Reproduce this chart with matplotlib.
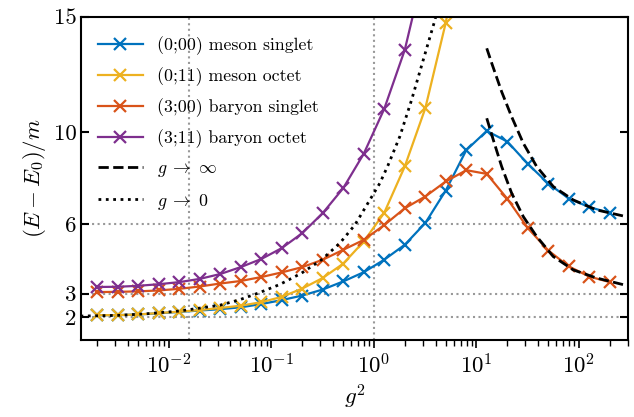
import numpy as np
import matplotlib
matplotlib.use('Agg')
import matplotlib.pyplot as plt

# LaTeX-like look
plt.rcParams['font.family'] = 'serif'
plt.rcParams['font.serif'] = ['cmr10']
plt.rcParams['mathtext.fontset'] = 'cm'
plt.rcParams['axes.formatter.use_mathtext'] = True
plt.rcParams['font.size'] = 16.5

# Data
g2 = [0.002, 0.00317, 0.00502, 0.00796, 0.0126, 0.02, 0.0317, 0.0502, 0.0796, 0.126,
      0.2, 0.317, 0.502, 0.796, 1.26, 2.0, 3.17, 5.02, 7.96, 12.6,
      20.0, 31.7, 50.2, 79.6, 126.0, 200.0]

meson_singlet = [2.07, 2.07, 2.10, 2.15, 2.21, 2.27, 2.33, 2.41, 2.55, 2.72,
                 2.92, 3.18, 3.53, 3.93, 4.47, 5.12, 6.06, 7.47, 9.22, 10.05,
                 9.59, 8.62, 7.77, 7.12, 6.75, 6.50]
meson_octet = [2.07, 2.07, 2.10, 2.16, 2.22, 2.29, 2.38, 2.48, 2.63, 2.86,
               3.22, 3.68, 4.30, 5.26, 6.50, 8.51, 11.03, 14.74, 19.5]
baryon_singlet = [3.07, 3.08, 3.10, 3.14, 3.21, 3.31, 3.44, 3.55, 3.72, 3.92,
                  4.15, 4.47, 4.90, 5.33, 5.97, 6.70, 7.21, 7.86, 8.35, 8.19,
                  7.11, 5.84, 4.87, 4.18, 3.74, 3.50]
baryon_octet = [3.29, 3.30, 3.34, 3.41, 3.50, 3.64, 3.85, 4.15, 4.50, 4.97,
                5.62, 6.49, 7.57, 9.06, 11.0, 13.56, 17.3]

# strong coupling (g -> inf) curves
strong_x = [12.6, 14.1, 17.6, 22.0, 28.6, 38.6, 56.1, 87.9, 148.0, 300.0]
strong_upper = [13.63, 12.98, 11.75, 10.67, 9.52, 8.51, 7.64, 7.06, 6.63, 6.32]
strong_lower_x = [12.6, 14.6, 17.6, 22.0, 28.6, 38.6, 56.1, 87.9, 148.0, 300.0]
strong_lower = [10.6, 9.66, 8.51, 7.36, 6.34, 5.48, 4.61, 4.03, 3.68, 3.34]

# weak coupling (g -> 0) curve
weak_x = [0.00138, 0.00318, 0.0061, 0.0128, 0.0315, 0.0493, 0.0772, 0.121, 0.197,
          0.309, 0.466, 0.653, 0.874, 1.144, 1.37, 1.79, 2.33, 3.03, 3.94, 4.5]
weak_y = [2.03, 2.06, 2.13, 2.25, 2.50, 2.74, 3.05, 3.40, 3.89,
          4.47, 5.19, 5.98, 6.92, 7.79, 8.55, 9.81, 11.39, 13.13, 14.86, 16.0]

c_blue = '#0072BD'
c_yellow = '#EDB120'
c_orange = '#D95319'
c_purple = '#7E2F8E'

fig = plt.figure(figsize=(6.34, 4.17), dpi=100)
ax = fig.add_axes([0.128, 0.185, 0.8625, 0.775])

# reference grid lines
for yv in [2, 3, 6]:
    ax.axhline(yv, color='#999999', ls=':', lw=1.5, zorder=0)
for xv in [1/64, 1]:
    ax.axvline(xv, color='#999999', ls=':', lw=1.5, zorder=0)

kw = dict(marker='x', ms=9, mew=1.6, lw=1.6)
ax.plot(g2, meson_singlet, color=c_blue, label='(0;00) meson singlet', **kw)
ax.plot(g2[:len(meson_octet)], meson_octet, color=c_yellow, label='(0;11) meson octet', **kw)
ax.plot(g2, baryon_singlet, color=c_orange, label='(3;00) baryon singlet', **kw)
ax.plot(g2[:len(baryon_octet)], baryon_octet, color=c_purple, label='(3;11) baryon octet', **kw)

ax.plot(strong_x, strong_upper, 'k--', lw=2, label=r'$g\;\to\;\infty$')
ax.plot(strong_lower_x, strong_lower, 'k--', lw=2)
ax.plot(weak_x, weak_y, 'k:', lw=2, label=r'$g\;\to\;0$')

ax.set_xscale('log')
ax.set_xlim(1.4e-3, 300)
ax.set_ylim(1, 15)
ax.set_yticks([2, 3, 6, 10, 15])
ax.set_yticklabels(['2', '3', '6', '10', '15'])
ax.tick_params(axis='y', direction='in', left=True, right=True, length=6, width=1.5)
ax.tick_params(axis='x', which='major', direction='out', length=6, width=1.2)
ax.tick_params(axis='x', which='minor', direction='out', length=4, width=1.0)
for s in ax.spines.values():
    s.set_linewidth(1.5)

ax.set_xlabel(r'$g^2$')
ax.set_ylabel(r'$(E-E_0)/m$')

ax.legend(loc='upper left', bbox_to_anchor=(0.018, 0.962), borderaxespad=0,
          frameon=False, fontsize=12.8, handlelength=2.5, labelspacing=0.7)

fig.savefig('out.png', dpi=100)
